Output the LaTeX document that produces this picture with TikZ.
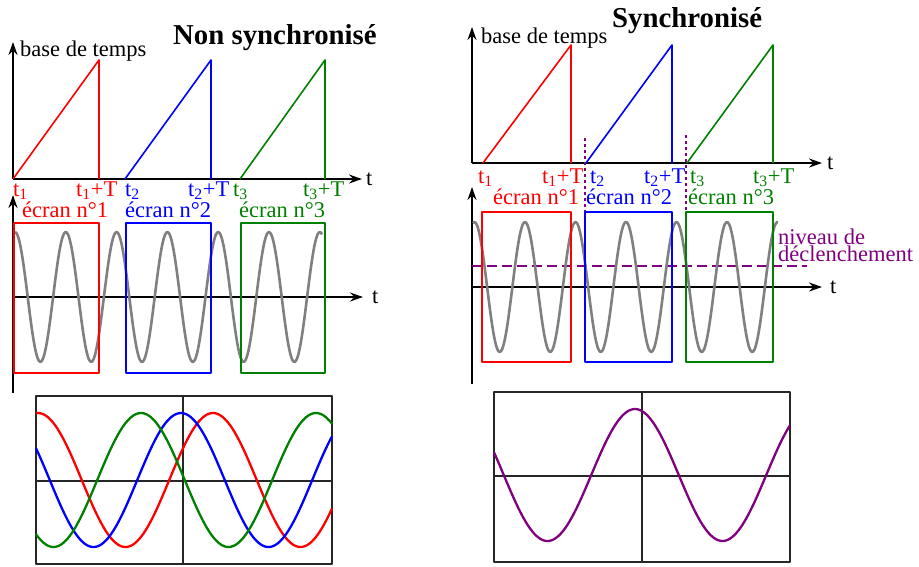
\documentclass[tikz,border=0pt]{standalone}
\usepackage{fontspec}
\setmainfont{Liberation Serif}
\usetikzlibrary{arrows.meta}
\definecolor{vertfonce}{RGB}{0,128,0}
\definecolor{violetdecl}{RGB}{128,0,128}
\begin{document}
\begin{tikzpicture}[x=1pt, y=-1pt, line join=round, >={Stealth[length=13pt,width=9pt]},
		font=\fontsize{22.5}{27}\selectfont,
		axe/.style={->, line width=2pt},
		rampe/.style={line width=1.6pt},
		ecran/.style={line width=2pt},
		signal/.style={gray, line width=2.6pt, smooth},
		trace/.style={line width=2.3pt, smooth},
		lbl/.style={anchor=base west, inner sep=0pt},
		titre/.style={lbl, font=\fontsize{28.8}{30}\selectfont\bfseries}]
		\useasboundingbox (0,0) rectangle (919,566);
		% Non synchronise
		\node[titre] (titreNS) at (173,44) {Non synchronisé};
		\coordinate (O1) at (13,179); \coordinate (Y1) at (13,42); \coordinate (X1) at (362,179);
		\draw[axe] (O1) -- (Y1);
		\draw[axe] (O1) -- (X1) node[right, inner sep=3pt] (tA) {t};
		\node[lbl] (baseNS) at (20,56) {base de temps};
		\coordinate (O2) at (13,393); \coordinate (Y2) at (13,195);
		\coordinate (S2) at (13,297); \coordinate (X2) at (363,297);
		\draw[axe] (O2) -- (Y2);
		\draw[axe] (S2) -- (X2) node[right, inner sep=8pt] (tB) {t};
		\draw[signal] plot[domain=15:322, samples=220] (\x, {297-65*cos(((\x-15)/50.8)*360)});
		\foreach \col/\d/\h/\tx/\tT/\ex/\n in {red/13/99/13/76/22/1, blue/125/211/125/188/125/2, vertfonce/240/325/233/303/239/3}
		{
			\draw[rampe, \col] (\d,179) -- (\h,60) -- (\h,179);
			\node[lbl, text=\col] (tNS\n) at (\tx,196) {t\textsubscript{\n}};
			\node[lbl, text=\col] (tTNS\n) at (\tT,196) {t\textsubscript{\n}+T};
			\node[lbl, text=\col] (ecNS\n) at (\ex,217) {écran n°\n};
			\draw[ecran, \col] (\d+1,223) rectangle (\h,373);
		}
		\draw[line width=2pt, black!85] (36,396) rectangle (332,564);
		\draw[line width=2pt, black!85] (183,396) -- (183,564) (36,481) -- (332,481);
		\foreach \col/\m in {red/213, blue/181, vertfonce/141}
		\draw[trace, \col] plot[domain=36:332, samples=150] (\x, {480-67*cos(((\x-\m)/175)*360)});
		% Synchronise
		\node[titre] (titreS) at (612,27) {Synchronisé};
		\coordinate (O3) at (472,163); \coordinate (Y3) at (472,27); \coordinate (X3) at (822,163);
		\draw[axe] (O3) -- (Y3);
		\draw[axe] (O3) -- (X3) node[right, inner sep=4pt] (tC) {t};
		\node[lbl] (baseS) at (481,43) {base de temps};
		\coordinate (O4) at (472,384); \coordinate (Y4) at (472,187);
		\coordinate (S4) at (472,287); \coordinate (X4) at (822,287);
		\draw[axe] (O4) -- (Y4);
		\draw[axe] (S4) -- (X4) node[right, inner sep=7pt] (tD) {t};
		\draw[violetdecl, line width=2.8pt, dash pattern=on 10pt off 5pt] (472,266) -- (807,266);
		\draw[violetdecl, line width=2pt, dash pattern=on 3pt off 3pt] (585,138) -- (585,212) (686,135) -- (686,212);
		\node[lbl, text=violetdecl] (niv1) at (778,244) {niveau de};
		\node[lbl, text=violetdecl] (niv2) at (778,261) {déclenchement};
		\draw[signal] plot[domain=473:778, samples=220] (\x, {287-65*cos(((\x-474.5)/50.5)*360)});
		\foreach \col/\d/\h/\tx/\tT/\ex/\n in {red/483/571/478/542/493/1, blue/586/672/590/644/586/2, vertfonce/687/773/690/753/688/3}
		{
			\draw[rampe, \col] (\d,163) -- (\h,45) -- (\h,163);
			\node[lbl, text=\col] (tS\n) at (\tx,183) {t\textsubscript{\n}};
			\node[lbl, text=\col] (tTS\n) at (\tT,183) {t\textsubscript{\n}+T};
			\node[lbl, text=\col] (ecS\n) at (\ex,204) {écran n°\n};
			\draw[ecran, \col] (\d-1,212) rectangle (\h,362);
		}
		\draw[line width=2pt, black!85] (494,392) rectangle (790,562);
		\draw[line width=2pt, black!85] (642,392) -- (642,562) (494,476) -- (790,476);
		\draw[trace, violetdecl] plot[domain=494:790, samples=150] (\x, {475-66*cos(((\x-635)/175)*360)});
	\end{tikzpicture}
\end{document}
